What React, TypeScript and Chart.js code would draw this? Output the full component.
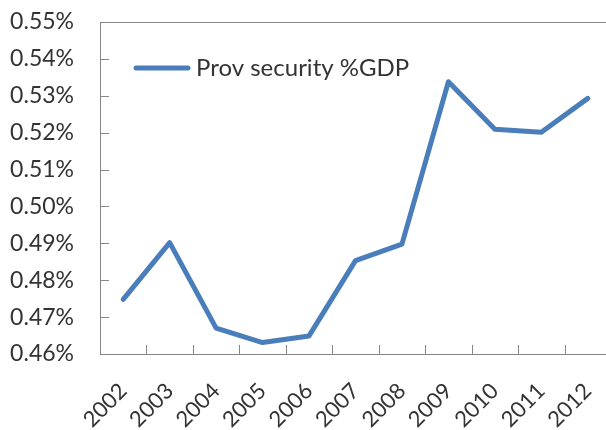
import React, { useEffect, useRef } from "react";
import { Chart, registerables } from "chart.js";

Chart.register(...registerables);

const years = ["2002", "2003", "2004", "2005", "2006", "2007", "2008", "2009", "2010", "2011", "2012"];
const provSecurity = [0.4748, 0.4902, 0.467, 0.4631, 0.4649, 0.4853, 0.4898, 0.5338, 0.5209, 0.5201, 0.5293];
const yMin = 0.46;
const yMax = 0.55;
const yStep = 0.01;

const FONT = "Lato, 'Open Sans', sans-serif";
const AXIS = "#868686";
const TEXT = "#333333";
const BLUE = "#4A7EBB";

const frameAndTicks = {
  id: "frameAndTicks",
  afterDraw(chart: any) {
    const { ctx, chartArea, scales } = chart;
    const x = scales.x;
    const y = scales.y;
    ctx.save();
    ctx.strokeStyle = AXIS;
    ctx.lineWidth = 1;
    ctx.beginPath();
    ctx.moveTo(chartArea.left, chartArea.top + 0.5);
    ctx.lineTo(chartArea.right, chartArea.top + 0.5);
    ctx.moveTo(chartArea.right - 0.5, chartArea.top);
    ctx.lineTo(chartArea.right - 0.5, chartArea.bottom);
    for (let i = 0; i < y.ticks.length; i++) {
      const py = Math.round(y.getPixelForTick(i)) + 0.5;
      ctx.moveTo(chartArea.left, py);
      ctx.lineTo(chartArea.left + 9, py);
    }
    const n = years.length;
    for (let i = 1; i <= n; i++) {
      const px = Math.round((x.getPixelForValue(i - 1) + x.getPixelForValue(i)) / 2) + 0.5;
      ctx.moveTo(px, chartArea.bottom);
      ctx.lineTo(px, chartArea.bottom - 9);
    }
    ctx.stroke();

    // legend inside the plot area, drawn from the dataset
    const ds = chart.data.datasets[0];
    const lx = chartArea.left + 36;
    const ly = chartArea.top + 46;
    ctx.strokeStyle = ds.borderColor;
    ctx.lineWidth = ds.borderWidth;
    ctx.lineCap = "round";
    ctx.beginPath();
    ctx.moveTo(lx, ly);
    ctx.lineTo(lx + 52, ly);
    ctx.stroke();
    ctx.fillStyle = TEXT;
    ctx.font = `24px ${FONT}`;
    ctx.textBaseline = "middle";
    ctx.textAlign = "left";
    ctx.fillText(ds.label, lx + 60, ly);
    ctx.restore();
  },
};

export default function App() {
  const ref = useRef<HTMLCanvasElement | null>(null);

  useEffect(() => {
    if (!ref.current) return;
    const chart = new Chart(ref.current, {
      type: "line",
      data: {
        labels: years,
        datasets: [
          {
            label: "Prov security %GDP",
            data: provSecurity,
            borderColor: BLUE,
            backgroundColor: BLUE,
            borderWidth: 5,
            pointRadius: 0,
            tension: 0,
            borderJoinStyle: "round",
            borderCapStyle: "round",
          },
        ],
      },
      options: {
        responsive: false,
        animation: false,
        layout: { padding: { top: 22, left: 0, right: 0, bottom: 0 } },
        plugins: {
          tooltip: { enabled: false },
          legend: { display: false },
        },
        scales: {
          x: {
            type: "category",
            offset: true,
            grid: { display: false },
            border: { color: AXIS, width: 1 },
            ticks: {
              color: TEXT,
              font: { family: FONT, size: 22 },
              maxRotation: 45,
              minRotation: 45,
              padding: 16,
              autoSkip: false,
            },
            afterFit: (s: any) => {
              s.height = 76;
              s.paddingRight = 0;
              s.paddingLeft = 0;
            },
          },
          y: {
            min: yMin,
            max: yMax,
            grid: { display: false },
            border: { color: AXIS, width: 1 },
            ticks: {
              stepSize: yStep,
              color: TEXT,
              font: { family: FONT, size: 23 },
              padding: 18,
              callback: (v: any) => Number(v).toFixed(2) + "%",
            },
            afterFit: (s: any) => {
              s.width = 100;
              s.paddingTop = 0;
              s.paddingBottom = 0;
            },
          },
        },
      },
      plugins: [frameAndTicks],
    });
    return () => chart.destroy();
  }, []);

  return (
    <div style={{ position: "fixed", left: 0, top: 0, width: 606, height: 430, overflow: "hidden", background: "#fff" }}>
      <canvas ref={ref} width={611} height={430} style={{ width: 611, height: 430, display: "block" }} />
    </div>
  );
}
